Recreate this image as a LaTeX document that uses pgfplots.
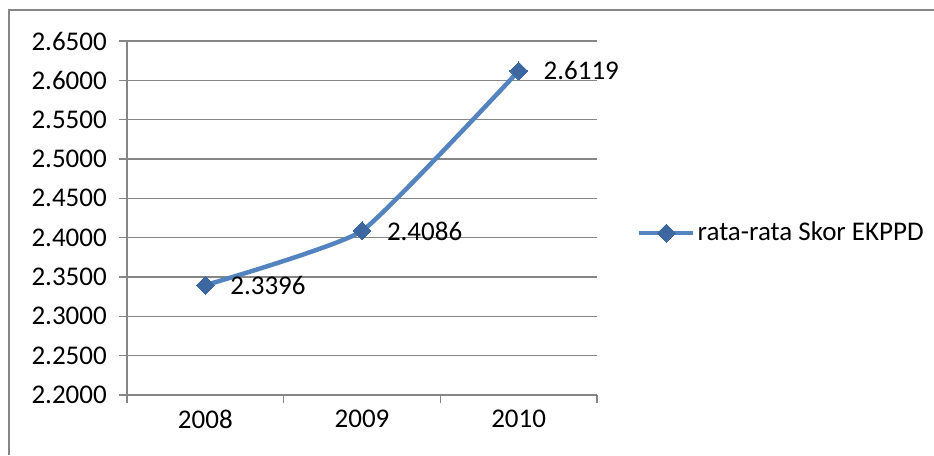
\documentclass[border=0pt]{standalone}
\usepackage{fontspec}
\setmainfont{Carlito}
\usepackage{pgfplots}
\pgfplotsset{compat=1.18}
\definecolor{ln}{RGB}{84,132,192}
\definecolor{mk}{RGB}{60,103,160}
\definecolor{gridc}{RGB}{134,134,134}
\begin{document}%
\fontsize{27}{32}\selectfont%
\begin{tikzpicture}
\path[use as bounding box] (0pt,0pt) rectangle (934pt,455pt);
\draw[gridc, line width=1.3pt] (9pt,0pt) -- (9pt,445pt) -- (934pt,445pt);
\begin{axis}[
  at={(127pt,60pt)}, anchor=south west,
  scale only axis, width=470pt, height=354pt,
  xmin=0.5, xmax=3.5, ymin=2.2, ymax=2.65,
  /pgf/number format/assume math mode=true,
  xtick={0.5,1.5,2.5,3.5}, xticklabels={},
  extra x ticks={1,2,3}, extra x tick labels={2008,2009,2010},
  extra x tick style={major tick length=0pt, xticklabel style={yshift=-6pt}},
  ytick={2.2,2.25,2.3,2.35,2.4,2.45,2.5,2.55,2.6,2.65},
  yticklabel style={xshift=-3pt, /pgf/number format/.cd, fixed, fixed zerofill, precision=4},
  ymajorgrids, grid style={gridc, line width=1.3pt},
  axis lines=left, axis line style={-, gridc, line width=1.3pt},
  tick align=outside, major tick length=8pt,
  tick style={gridc, line width=1.3pt},
  legend style={at={(1.0851,0.4576)}, anchor=west, draw=none, fill=none,
    inner sep=0pt, nodes={inner sep=2pt}},
  legend image code/.code={\draw[mark repeat=2,mark phase=2,#1] plot coordinates {(0pt,0pt) (27pt,0pt) (54pt,0pt)};},
  clip=false,
]
\addplot[ln, line width=4.5pt, smooth, tension=0.25,
  mark=diamond*, mark size=9pt,
  mark options={mk, fill=mk, line width=0pt, xscale=1.33, solid},
  nodes near coords, point meta=explicit symbolic,
  nodes near coords style={anchor=west, inner sep=0pt, xshift=25pt, text=black},
] coordinates {(1,2.3396) [2.3396] (2,2.4086) [2.4086] (3,2.6119) [2.6119]};
\addlegendentry{rata-rata Skor EKPPD}
\end{axis}
\end{tikzpicture}%
\end{document}
